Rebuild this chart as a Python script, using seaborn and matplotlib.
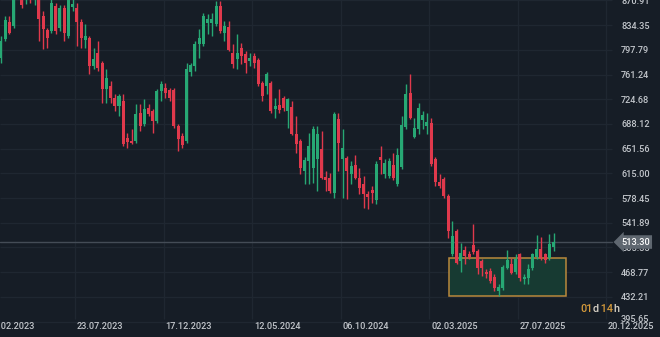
import numpy as np
import pandas as pd
import matplotlib
matplotlib.use("Agg")
import matplotlib.pyplot as plt
import matplotlib.dates as mdates
from matplotlib.patches import Rectangle
from matplotlib.transforms import ScaledTranslation
from matplotlib.offsetbox import TextArea, HPacker, AnnotationBbox
import seaborn as sns

# ---------------- data (weekly candles) ----------------
first_week = "2023-03-22"
opens = [785.9, 814.1, 839.2, 833.3, 885.1, 899.9, 877.7, 899.9, 877.7, 877.7,
         848.1, 827.4, 825.9, 862.9, 830.3, 860.0, 818.5, 861.4, 860.0, 839.2,
         812.6, 815.5, 774.1, 793.3, 778.5, 740.1, 744.5, 726.7, 714.9, 722.3,
         667.5, 663.1, 663.1, 704.5, 688.3, 711.9, 707.5, 692.7, 737.1, 741.5,
         738.6, 738.6, 685.3, 670.5, 663.1, 765.2, 774.1, 806.7, 806.7, 837.7,
         837.7, 836.3, 862.9, 822.9, 831.8, 793.3, 784.5, 800.7, 791.9, 781.5,
         788.9, 783.0, 748.9, 744.5, 748.9, 710.5, 716.4, 726.7, 707.5, 713.4,
         673.5, 663.1, 618.7, 633.5, 623.1, 636.5, 651.3, 609.8, 608.3, 586.1,
         695.7, 636.5, 637.9, 614.3, 627.6, 608.3, 599.5, 584.7, 590.6, 575.8,
         639.4, 614.3, 611.3, 627.6, 599.5, 624.6, 683.8, 734.1, 669.0, 680.9,
         694.2, 685.3, 689.7, 636.5, 602.4, 606.9, 581.7, 495.9, 529.9, 485.5,
         501.8, 495.9, 509.2, 500.3, 485.5, 469.2, 470.7, 461.8, 441.1, 445.5,
         475.1, 481.1, 469.2, 495.9, 458.9, 460.3, 475.1, 491.4, 503.3, 495.9,
         489.9, 506.2]
highs = [818.5, 848.1, 848.1, 892.5, 929.5, 914.7, 907.3, 914.7, 911.7, 885.1,
         855.5, 830.3, 877.7, 867.3, 864.4, 864.4, 882.1, 874.7, 867.3, 843.7,
         836.3, 818.5, 800.7, 811.1, 781.5, 769.7, 751.9, 732.7, 732.7, 732.7,
         674.9, 680.9, 717.9, 717.9, 725.3, 717.9, 710.5, 740.1, 751.9, 748.9,
         741.5, 741.5, 688.3, 674.9, 778.5, 778.5, 811.1, 828.9, 852.5, 851.1,
         852.5, 870.3, 870.3, 840.7, 840.7, 806.7, 821.5, 808.1, 796.3, 793.3,
         793.3, 785.9, 751.9, 765.2, 751.9, 726.7, 740.1, 729.7, 726.7, 722.3,
         700.1, 666.1, 639.4, 674.9, 685.3, 685.3, 677.9, 618.7, 615.7, 706.0,
         704.5, 680.9, 640.9, 633.5, 642.4, 623.1, 611.3, 589.1, 596.5, 633.5,
         655.7, 636.5, 637.9, 645.3, 652.7, 700.1, 747.5, 762.3, 697.1, 719.3,
         707.5, 704.5, 697.1, 639.4, 614.3, 609.8, 584.7, 544.7, 532.9, 512.1,
         507.7, 500.3, 540.3, 503.3, 488.5, 473.7, 475.1, 466.3, 451.5, 479.6,
         501.8, 489.9, 495.9, 497.3, 466.3, 481.1, 497.3, 524.0, 521.0, 497.3,
         525.5, 526.9]
lows = [778.5, 811.1, 821.5, 830.3, 874.7, 860.0, 865.9, 867.3, 864.4, 811.1,
        799.3, 800.7, 822.9, 821.5, 825.9, 811.1, 815.5, 855.5, 803.7, 800.7,
        800.7, 762.3, 769.7, 766.7, 719.3, 719.3, 719.3, 707.5, 700.1, 655.7,
        652.7, 658.7, 660.1, 677.9, 685.3, 700.1, 674.9, 689.7, 722.3, 726.7,
        722.3, 682.3, 648.3, 652.7, 660.1, 759.3, 766.7, 785.9, 803.7, 821.5,
        818.5, 833.3, 822.9, 811.1, 796.3, 771.1, 769.7, 777.1, 763.7, 774.1,
        771.1, 744.5, 722.3, 732.7, 704.5, 697.1, 704.5, 707.5, 682.3, 672.0,
        645.3, 614.3, 599.5, 599.5, 600.9, 589.1, 606.9, 589.1, 586.1, 578.7,
        618.7, 578.7, 577.3, 599.5, 606.9, 584.7, 564.0, 562.5, 571.3, 569.9,
        614.3, 608.3, 608.3, 605.4, 596.5, 621.7, 680.9, 695.7, 667.5, 673.5,
        680.9, 673.5, 626.1, 596.5, 593.5, 578.7, 519.5, 492.9, 481.1, 469.2,
        481.1, 488.5, 495.9, 466.3, 463.3, 460.3, 452.9, 441.1, 433.7, 442.6,
        473.7, 466.3, 466.3, 455.9, 451.5, 451.5, 472.2, 488.5, 487.0, 482.5,
        487.0, 500.3]
closes = [811.1, 842.2, 822.9, 877.7, 914.7, 864.4, 892.5, 882.1, 896.9, 843.7,
          828.9, 815.5, 867.3, 825.9, 860.0, 822.9, 874.7, 865.9, 839.2, 815.5,
          818.5, 774.1, 784.5, 771.1, 740.1, 756.3, 726.7, 714.9, 729.7, 658.7,
          661.6, 660.1, 703.1, 685.3, 710.5, 703.1, 692.7, 737.1, 747.5, 734.1,
          726.7, 685.3, 666.1, 657.2, 769.7, 775.6, 806.7, 815.5, 848.1, 843.7,
          843.7, 862.9, 825.9, 833.3, 797.8, 777.1, 793.3, 788.9, 778.5, 785.9,
          778.5, 747.5, 729.7, 762.3, 707.5, 714.9, 709.0, 711.9, 725.3, 673.5,
          658.7, 623.1, 635.0, 655.7, 680.9, 673.5, 608.3, 605.4, 589.1, 703.1,
          660.1, 652.7, 618.7, 626.1, 608.3, 593.5, 584.7, 580.2, 586.1, 629.1,
          635.0, 630.5, 633.5, 608.3, 642.4, 686.8, 732.7, 697.1, 682.3, 711.9,
          701.6, 691.2, 629.1, 602.4, 596.5, 581.7, 529.9, 522.5, 482.5, 497.3,
          492.9, 491.4, 498.8, 475.1, 475.1, 466.3, 455.9, 445.5, 447.0, 476.6,
          487.0, 467.7, 488.5, 460.3, 461.8, 473.7, 495.9, 503.3, 489.9, 487.0,
          510.7, 513.3]

price_ticks = [870.91, 834.35, 797.79, 761.24, 724.68, 688.12, 651.56, 615.00,
               578.45, 541.89, 505.33, 468.77, 432.21, 395.65]
date_ticks = ["2023-02-26", "2023-07-23", "2023-12-17", "2024-05-12",
              "2024-10-06", "2025-03-02", "2025-07-27", "2025-12-20"]
date_labels = ["26.02.2023", "23.07.2023", "17.12.2023", "12.05.2024",
               "06.10.2024", "02.03.2025", "27.07.2025", "20.12.2025"]
last_price = 513.30
zone_start, zone_end = "2025-04-03", "2025-10-15"
zone_low, zone_high = 434.0, 490.0
countdown_parts = ["01", "d", " 14", "h"]

# ---------------- style ----------------
BG = "#161d26"
GRID = "#1f2731"
UP = "#27a874"
DOWN = "#e0394c"
TXT = "#c3c7cc"
ORANGE = "#d49a3b"

sns.set_theme(style="dark", rc={"axes.facecolor": BG, "figure.facecolor": BG})
plt.rcParams["font.family"] = ["Roboto", "DejaVu Sans"]

df = pd.DataFrame({
    "date": pd.date_range(first_week, periods=len(opens), freq="7D"),
    "open": opens, "high": highs, "low": lows, "close": closes,
})
df["x"] = mdates.date2num(df["date"])
df["up"] = df["close"] >= df["open"]
df["color"] = np.where(df["up"], UP, DOWN)
df["bottom"] = df[["open", "close"]].min(axis=1)
df["height"] = (df["close"] - df["open"]).abs().clip(lower=1.6)

fig = plt.figure(figsize=(6.6, 3.37), dpi=100)
ax = fig.add_axes([0, 0, 1, 1])
ax.set_facecolor(BG)

# axis scales (pixel-calibrated view)
ref = mdates.date2num(pd.Timestamp("2023-07-23"))
days_per_px = 147 / 88.6
x0 = ref - 75 * days_per_px
ax.set_xlim(x0, x0 + 660 * days_per_px)
top = 871.5
ax.set_ylim(top - 337 * 1.48, top)

tick_x = [mdates.date2num(pd.Timestamp(d)) for d in date_ticks]
plot_right = 612 / 660
# grid
ax.hlines(price_ticks, 0, plot_right, transform=ax.get_yaxis_transform(),
          color=GRID, lw=0.9, zorder=0.5)
ax.vlines(tick_x, 18 / 337, 1, transform=ax.get_xaxis_transform(),
          color=GRID, lw=0.9, zorder=0.5)

# zone rectangle
zs = mdates.date2num(pd.Timestamp(zone_start))
ze = mdates.date2num(pd.Timestamp(zone_end))
ax.add_patch(Rectangle((zs, zone_low), ze - zs, zone_high - zone_low,
                       facecolor="#173a32", edgecolor="#b9893c", lw=1.1, zorder=1))

# candles
ax.vlines(df["x"], df["low"], df["high"], colors=df["color"], lw=1.0, zorder=2)
ax.bar(df["x"], df["height"], bottom=df["bottom"], width=5.0,
       color=df["color"], edgecolor="none", zorder=3)

# last price line
ax.axhline(last_price, 0, plot_right, color="#444c56", lw=1.0, zorder=1.5)

# y ticks on the right, inside
ax.set_yticks(price_ticks)
ax.set_yticklabels([f"{v:.2f}" for v in price_ticks])
ax.yaxis.tick_right()
ax.tick_params(axis="y", pad=-28, length=0, labelsize=6.6, labelcolor=TXT)
ylabs = ax.get_yticklabels()
for lab in ylabs:
    lab.set_fontweight("medium")
# lowest price label is nudged up above the date row, as in the reference
ylabs[-1].set_transform(ylabs[-1].get_transform()
                        + ScaledTranslation(0, 3.5 / 100, fig.dpi_scale_trans))
ax.set_xticks([])
ax.grid(False)
for s in ax.spines.values():
    s.set_visible(False)

# x labels (left aligned at their grid line)
for xv, lab in zip(tick_x, date_labels):
    ax.annotate(lab, xy=(xv, 10.5 / 337), xycoords=ax.get_xaxis_transform(),
                xytext=(1.5, 0), textcoords="offset points", ha="left", va="center",
                fontsize=6.6, color=TXT, fontweight="medium", annotation_clip=False)

ax.text(621 / 660, last_price, f"{last_price:.2f}", transform=ax.get_yaxis_transform(),
        ha="left", va="center", fontsize=6.6, color="white", fontweight="medium",
        zorder=10, clip_on=False,
        bbox=dict(boxstyle="larrow,pad=0.25", fc="#5f6770", ec="none"))

# countdown
parts = [TextArea(t, textprops=dict(color=(ORANGE if i % 2 == 0 else "#d8d2c6"),
                                     fontsize=7.8, fontweight="medium"))
         for i, t in enumerate(countdown_parts)]
box = HPacker(children=parts, align="baseline", pad=0, sep=0)
ab = AnnotationBbox(box, (580, 337 - 309), xycoords="figure pixels",
                    box_alignment=(0, 0.5), frameon=False, zorder=10)
ax.add_artist(ab)

fig.savefig("out.png", dpi=100, facecolor=BG)
